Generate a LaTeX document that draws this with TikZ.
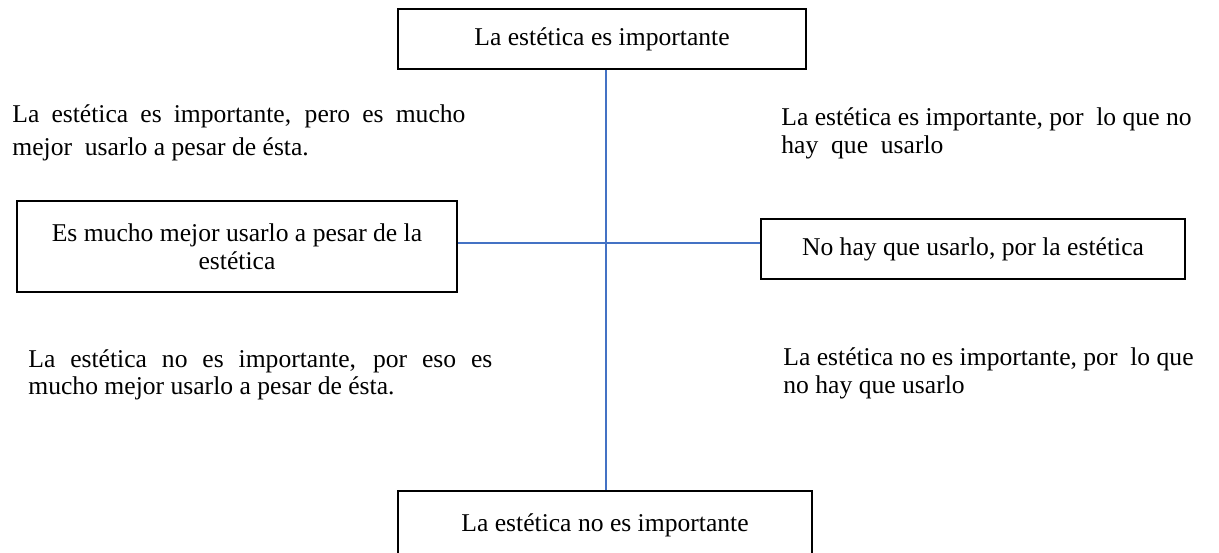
\documentclass[tikz,border=0pt]{standalone}
\usepackage{fontspec}
\setmainfont{Liberation Serif}
\definecolor{axisblue}{RGB}{68,114,196}
\begin{document}
\begin{tikzpicture}
[x=0.5pt, y=-0.5pt, font=\fontsize{12.8}{14}\selectfont,
box/.style={rectangle, draw=black, line width=1pt, inner sep=0pt, align=center},
txt/.style={inner sep=0pt, anchor=base west},
axis/.style={draw=axisblue, line width=0.6pt}]

\path[use as bounding box] (0,0) rectangle (1219,552);
\clip (0,0) rectangle (1219,552);

\node[box, minimum width=204pt, minimum height=30pt] (imp) at (602,39) {La estética es importante};
\node[box, minimum width=220pt, minimum height=45.5pt] (mejor) at (237,246.5) {Es mucho mejor usarlo a pesar de la\\estética};
\node[box, minimum width=212pt, minimum height=30pt] (nohay) at (973,249) {No hay que usarlo, por la estética};
\node[box, minimum width=207pt, minimum height=35pt] (noimp) at (605,526) {\raisebox{3.5pt}{La estética no es importante}};

\coordinate (cross) at (606,243);
\draw[axis] (imp.south -| cross) -- (noimp.north -| cross);
\draw[axis] (mejor.east |- cross) -- (nohay.west |- cross);

\node[txt, text width=226.5pt, align=justify, font=\fontsize{12.8}{16.75}\selectfont] (q1) at (12,122)
  {La estética es importante, pero es mucho\linebreak mejor\ \ usarlo a pesar de ésta.};
\node[txt, align=left] (q2) at (781,153)
  {La estética es importante, por\ \ lo que no\\hay\ \ que\ \ usarlo};
\node[txt, text width=232pt, align=justify, font=\fontsize{12.8}{13.5}\selectfont] (q3) at (28,367)
  {La estética no es importante, por eso es\linebreak mucho mejor usarlo a pesar de ésta.};
\node[txt, align=left] (q4) at (783,393)
  {La estética no es importante, por\ \ lo que\\no hay que usarlo};
\end{tikzpicture}
\end{document}
